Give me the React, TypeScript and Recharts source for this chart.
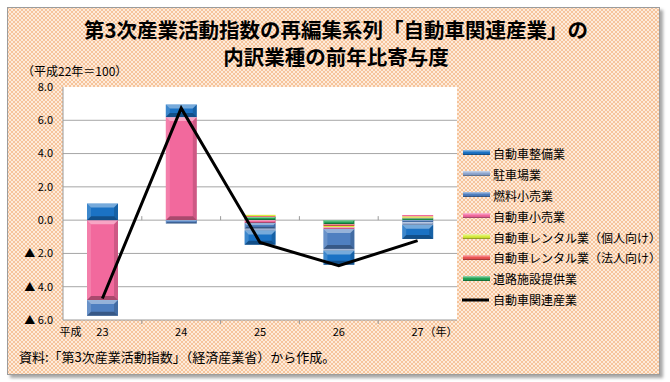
import React from 'react';
import { ComposedChart, Bar, Line, XAxis, YAxis, CartesianGrid, Legend, ReferenceLine } from 'recharts';

const FONT = '"Noto Sans CJK JP", "Noto Sans", sans-serif';

// categories (平成 年)
const years = ['23', '24', '25', '26', '27'];
// contributions (percentage points)
const seibi = [1.0, 0.76, -0.86, -0.85, -0.85]; // 自動車整備業
const chusha = [0, 0, -0.1, -0.1, -0.15]; // 駐車場業
const nenryou = [-0.95, -0.2, -0.35, -1.2, -0.13]; // 燃料小売業
const kouri = [-4.8, 6.19, -0.17, -0.1, 0.08]; // 自動車小売業
const kojin = [0, 0, 0.07, -0.08, 0.08]; // 自動車レンタル業（個人向け）
const houjin = [0, 0, 0.05, -0.1, 0.03]; // 自動車レンタル業（法人向け）
const douro = [0, 0, 0.2, -0.25, 0.12]; // 道路施設提供業
const kanren = [-4.71, 6.73, -1.34, -2.74, -1.23]; // 自動車関連産業
const yTicks = [-6, -4, -2, 0, 2, 4, 6, 8];

const data = years.map((y, i) => ({
  year: y,
  seibi: seibi[i],
  chusha: chusha[i],
  nenryou: nenryou[i],
  kouri: kouri[i],
  kojin: kojin[i],
  houjin: houjin[i],
  douro: douro[i],
  kanren: kanren[i],
}));

const barSeries = [
  { key: 'seibi', name: '自動車整備業', color: '#1B72C4' },
  { key: 'chusha', name: '駐車場業', color: '#8FA6CF' },
  { key: 'nenryou', name: '燃料小売業', color: '#4F7FC0' },
  { key: 'kouri', name: '自動車小売業', color: '#F2699D' },
  { key: 'kojin', name: '自動車レンタル業（個人向け）', color: '#D6EC3C' },
  { key: 'houjin', name: '自動車レンタル業（法人向け）', color: '#EE5555' },
  { key: 'douro', name: '道路施設提供業', color: '#23A455' },
];
const lineName = '自動車関連産業';

const BevelBar = (props: any) => {
  let { x, y, width: w, height: h, fill } = props;
  if (h == null || w == null) return null;
  if (h < 0) {
    y = y + h;
    h = -h;
  }
  if (h <= 0.01) return null;
  const b = Math.min(4, h / 3, w / 3);
  return (
    <g>
      <rect x={x} y={y} width={w} height={h} fill={fill} />
      {h > 1.5 && (
        <>
          <polygon points={`${x},${y} ${x + w},${y} ${x + w - b},${y + b} ${x + b},${y + b}`} fill="#fff" fillOpacity={0.4} />
          <polygon points={`${x},${y} ${x + b},${y + b} ${x + b},${y + h - b} ${x},${y + h}`} fill="#fff" fillOpacity={0.15} />
          <polygon points={`${x + w},${y} ${x + w},${y + h} ${x + w - b},${y + h - b} ${x + w - b},${y + b}`} fill="#000" fillOpacity={0.15} />
          <polygon points={`${x},${y + h} ${x + w},${y + h} ${x + w - b},${y + h - b} ${x + b},${y + h - b}`} fill="#000" fillOpacity={0.3} />
        </>
      )}
    </g>
  );
};

const TickMarks = (dir: number) => (p: any) => {
  const { x1, y1, x2 } = p;
  const n = years.length;
  const step = (x2 - x1) / n;
  return (
    <g>
      {years.slice(1).map((_, i) => (
        <line key={i} x1={x1 + step * (i + 1)} x2={x1 + step * (i + 1)} y1={y1} y2={y1 + dir * 4} stroke="#9a9a9a" strokeWidth={1} />
      ))}
    </g>
  );
};

const XTick = (props: any) => {
  const { x, y, payload, index } = props;
  const ty = y + 16;
  return (
    <g fontFamily={FONT} fontSize={11} fill="#000">
      {index === 0 && (
        <text x={x - 32} y={ty} textAnchor="middle" fill="#000">平成</text>
      )}
      <text x={x} y={ty} textAnchor="middle" fill="#000">{payload.value}</text>
      {index === years.length - 1 && (
        <text x={x + 7} y={ty} textAnchor="start" fill="#000">（年）</text>
      )}
    </g>
  );
};

const fmtY = (v: number) => (v < 0 ? `▲ ${(-v).toFixed(1)}` : v.toFixed(1));

const LegendBox = () => (
  <div style={{ fontFamily: FONT, fontSize: 12, color: '#000' }}>
    {barSeries.map((s) => (
      <div key={s.key} style={{ display: 'flex', alignItems: 'center', height: 20.9, whiteSpace: 'nowrap' }}>
        <svg width={31} height={8} style={{ flex: 'none' }}>
          <rect x={1} y={1} width={27} height={5} fill={s.color} />
          <rect x={1} y={1} width={27} height={1.5} fill="#fff" fillOpacity={0.45} />
          <rect x={1} y={4.8} width={27} height={1.2} fill="#000" fillOpacity={0.3} />
        </svg>
        <span>{s.name}</span>
      </div>
    ))}
    <div style={{ display: 'flex', alignItems: 'center', height: 20.9, whiteSpace: 'nowrap' }}>
      <svg width={31} height={8} style={{ flex: 'none' }}>
        <line x1={0} y1={4} x2={27} y2={4} stroke="#000" strokeWidth={3} />
      </svg>
      <span>{lineName}</span>
    </div>
  </div>
);

export default function App() {
  const bg: React.CSSProperties = {
    position: 'absolute',
    left: 7,
    top: 7,
    width: 653,
    height: 368,
    boxSizing: 'border-box',
    border: '1px solid #9c9c9c',
    boxShadow: '3px 3px 3px rgba(0,0,0,0.35)',
    backgroundColor: '#FDEBDB',
    backgroundImage:
      'radial-gradient(circle, #F6C49B 0.9px, transparent 1.4px), radial-gradient(circle, #F6C49B 0.9px, transparent 1.4px)',
    backgroundSize: '4px 4px, 4px 4px',
    backgroundPosition: '0 0, 2px 2px',
  };
  const titleStyle: React.CSSProperties = {
    position: 'absolute',
    left: 1,
    width: 670,
    textAlign: 'center',
    fontFamily: FONT,
    fontWeight: 700,
    fontSize: 20.5,
    lineHeight: '22px',
    color: '#000',
    whiteSpace: 'nowrap',
  };
  return (
    <div style={{ position: 'absolute', left: 0, top: 0, width: 670, height: 382, background: '#fff', overflow: 'hidden' }}>
      <div style={bg} />
      <div style={{ ...titleStyle, top: 18 }}>第3次産業活動指数の再編集系列「自動車関連産業」の</div>
      <div style={{ ...titleStyle, top: 45 }}>内訳業種の前年比寄与度</div>
      <div style={{ position: 'absolute', left: 22, top: 64, fontFamily: FONT, fontSize: 12, lineHeight: '14px', color: '#000' }}>
        （平成22年＝100）
      </div>
      <div style={{ position: 'absolute', left: 19, top: 348, fontFamily: FONT, fontSize: 13, lineHeight: '18px', color: '#000' }}>
        資料:「第3次産業活動指数」（経済産業省）から作成。
      </div>
      <div style={{ position: 'absolute', left: 0, top: 0 }}>
        <ComposedChart
          width={670}
          height={382}
          data={data}
          stackOffset="sign"
          margin={{ top: 87, right: 13, bottom: 32, left: 13 }}
        >
          <CartesianGrid vertical={false} stroke="#A6A6A6" fill="#fff" horizontalValues={[6, 4, 2, 0, -2, -4]} />
          <XAxis
            dataKey="year"
            height={30}
            tickLine={false}
            tickSize={0}
            tickMargin={0}
            axisLine={{ stroke: '#9a9a9a' }}
            tick={<XTick />}
            interval={0}
          />
          <YAxis
            width={50}
            domain={[-6, 8]}
            ticks={yTicks}
            interval={0}
            tickLine={false}
            tickSize={0}
            tickMargin={10}
            axisLine={{ stroke: '#9a9a9a' }}
            tickFormatter={fmtY}
            tick={{ fontFamily: FONT, fontSize: 11, fill: '#000' }}
          />
          <ReferenceLine y={0} stroke="none" shape={TickMarks(-1)} />
          <ReferenceLine y={-6} stroke="none" shape={TickMarks(1)} />
          {[...barSeries].reverse().map((s) => (
            <Bar
              key={s.key}
              dataKey={s.key}
              name={s.name}
              stackId="a"
              fill={s.color}
              barSize={31}
              isAnimationActive={false}
              shape={BevelBar}
            />
          ))}
          <Line
            dataKey="kanren"
            name={lineName}
            stroke="#000"
            strokeWidth={3}
            dot={false}
            activeDot={false}
            type="linear"
            isAnimationActive={false}
          />
          <Legend
            layout="vertical"
            align="right"
            verticalAlign="middle"
            wrapperStyle={{ left: 462, top: 143, width: 200 }}
            content={<LegendBox />}
          />
        </ComposedChart>
      </div>
    </div>
  );
}
